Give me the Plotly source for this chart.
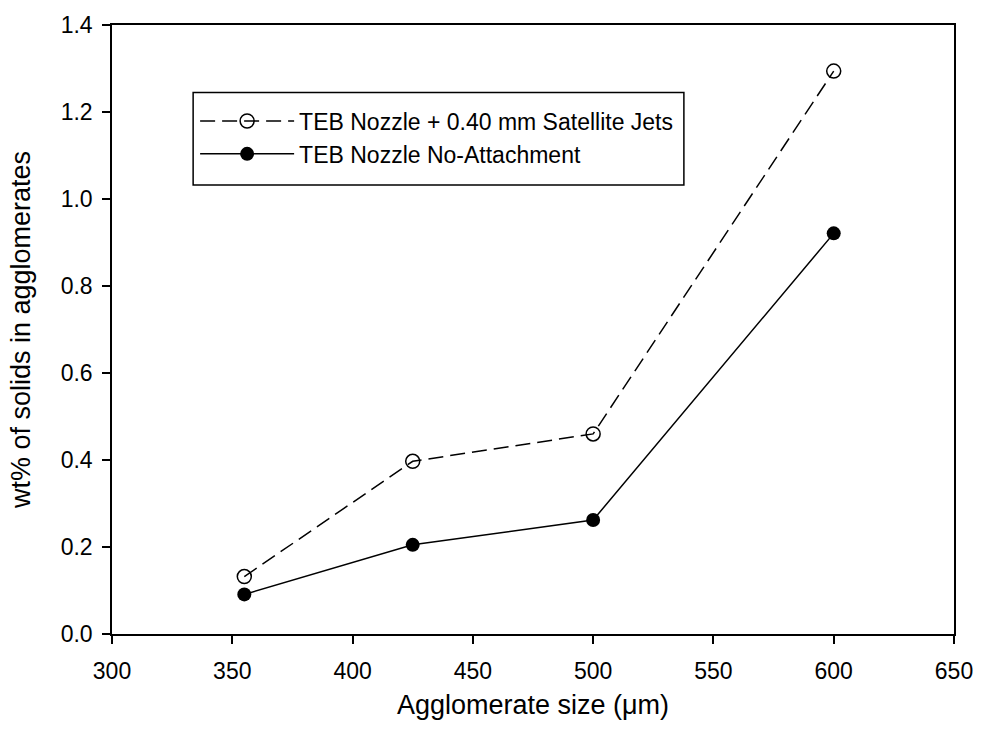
import plotly.graph_objects as go

sizes = [355, 425, 500, 600]
satellite_jets = [0.132, 0.397, 0.460, 1.294]
no_attachment = [0.091, 0.205, 0.262, 0.921]
x_ticks = [300, 350, 400, 450, 500, 550, 600, 650]
y_ticks = [0.0, 0.2, 0.4, 0.6, 0.8, 1.0, 1.2, 1.4]

FONT = "Liberation Sans, Arial, sans-serif"

# plot area in pixels (for placing the legend frame)
L, R, T, B = 112, 963, 21, 634
W, H = 985, 742

def px_x(p):
    return (p - L) / (R - L)

def px_y(p):
    return (B - p) / (B - T)

fig = go.Figure()
fig.add_trace(go.Scatter(
    x=sizes, y=satellite_jets, mode="lines+markers",
    name="TEB Nozzle + 0.40 mm Satellite Jets",
    line=dict(color="black", width=1.5, dash="15px,7px"),
    marker=dict(symbol="circle-open", size=14, color="black", line=dict(width=1.5, color="black")),
))
fig.add_trace(go.Scatter(
    x=sizes, y=no_attachment, mode="lines+markers",
    name="TEB Nozzle No-Attachment",
    line=dict(color="black", width=1.5),
    marker=dict(symbol="circle", size=14, color="black"),
))

axis_common = dict(
    showgrid=False, zeroline=False, showline=True, linecolor="black", linewidth=1.5,
    mirror=True, ticks="outside", ticklen=8, tickwidth=1.5, tickcolor="black",
    tickfont=dict(family=FONT, size=23, color="black"),
)
fig.update_xaxes(
    range=[300, 650], tickvals=x_ticks, ticktext=[str(v) for v in x_ticks],
    ticklabelstandoff=8,
    title=dict(text="Agglomerate size (\u03bcm)", font=dict(family=FONT, size=27, color="black"), standoff=12),
    **axis_common,
)
fig.update_yaxes(
    range=[0, 1.4], tickvals=y_ticks, ticktext=[f"{v:.1f}" for v in y_ticks],
    ticklabelstandoff=5,
    title=dict(text="wt% of solids in agglomerates", font=dict(family=FONT, size=27, color="black"), standoff=22),
    **axis_common,
)

# legend frame
fig.add_shape(
    type="rect", xref="paper", yref="paper",
    x0=px_x(194), x1=px_x(690), y0=px_y(182), y1=px_y(89),
    line=dict(color="black", width=1.5), fillcolor="white", layer="below",
)

fig.update_layout(
    width=W, height=H,
    margin=dict(l=L, r=W - R, t=T, b=H - B),
    paper_bgcolor="white", plot_bgcolor="white",
    font=dict(family=FONT, color="black"),
    legend=dict(
        x=px_x(196), y=px_y(96), xanchor="left", yanchor="top",
        borderwidth=0, bgcolor="rgba(0,0,0,0)",
        font=dict(family=FONT, size=23, color="black"),
        itemwidth=94, tracegroupgap=0,
    ),
)
fig.write_html("out.html")
